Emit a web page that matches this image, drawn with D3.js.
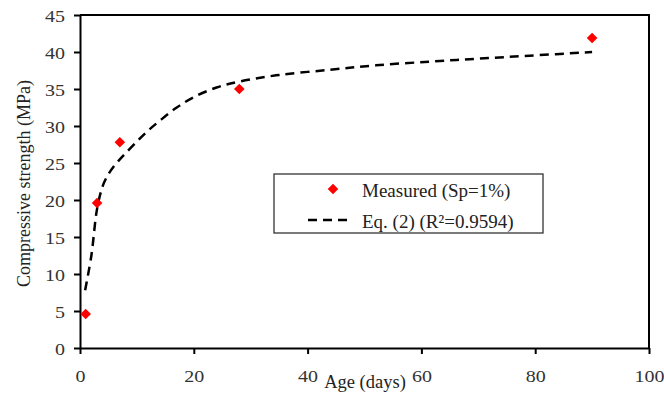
<!DOCTYPE html>
<html>
<head>
<meta charset="utf-8">
<script src="https://cdn.jsdelivr.net/npm/d3@7"></script>
<style>
  html, body { margin: 0; padding: 0; background: #fff; }
  svg { display: block; }
  svg text { font-family: "Liberation Serif", "Times New Roman", Tinos, "DejaVu Serif", serif !important; }
</style>
</head>
<body>
<svg id="chart" width="664" height="394"></svg>
<script>
// ---- data ----
const measuredAge = [1, 3, 7, 28, 90];
const measuredStrength = [4.6, 19.6, 27.8, 35.0, 41.9];

const fitAge = [0.9, 2, 3, 4, 5, 6, 7, 8, 10, 12, 14, 17, 20, 24, 28, 35, 44, 52, 61.5, 70, 79, 90];
const fitStrength = [7.8, 12.5, 18.8, 21.9, 23.5, 24.6, 25.5, 26.3, 27.9, 29.4, 30.7, 32.5, 33.9, 35.2, 36.0, 36.9, 37.6, 38.2, 38.7, 39.1, 39.5, 40.0];

const xTicks = [0, 20, 40, 60, 80, 100];
const yTicks = [0, 5, 10, 15, 20, 25, 30, 35, 40, 45];

const xTitle = "Age (days)";
const yTitle = "Compressive strength (MPa)";
const legendLabels = ["Measured (Sp=1%)", "Eq. (2) (R\u00B2=0.9594)"];

// ---- layout ----
const svg = d3.select("#chart");
const L = 80, R = 649, T = 15, B = 348;
const FONT = "'Liberation Serif', 'Times New Roman', Tinos, 'DejaVu Serif', serif";

const x = d3.scaleLinear().domain([0, 100]).range([L, R]);
const y = d3.scaleLinear().domain([0, 45]).range([B, T]);

// frame (top & right)
svg.append("path")
  .attr("d", `M${L},${T}H${R}V${B}`)
  .attr("fill", "none").attr("stroke", "#000").attr("stroke-width", 2);

// x axis
const gx = svg.append("g").attr("transform", `translate(0,${B})`)
  .call(d3.axisBottom(x).tickValues(xTicks).tickSizeInner(6).tickSizeOuter(0));
gx.attr("font-family", FONT);
gx.select(".domain").attr("stroke", "#000").attr("stroke-width", 2);
gx.selectAll(".tick line").attr("stroke", "#000").attr("stroke-width", 2);
gx.selectAll(".tick text")
  .attr("y", null).attr("dy", null)
  .attr("transform", "translate(0,34) scale(1.25,1)")
  .attr("font-size", 16).attr("fill", "#333");

// y axis
const gy = svg.append("g").attr("transform", `translate(${L},0)`)
  .call(d3.axisLeft(y).tickValues(yTicks).tickSizeInner(6).tickSizeOuter(0));
gy.attr("font-family", FONT);
gy.select(".domain").attr("stroke", "#000").attr("stroke-width", 2);
gy.selectAll(".tick line").attr("stroke", "#000").attr("stroke-width", 2);
gy.selectAll(".tick text")
  .attr("x", null).attr("dy", null)
  .attr("transform", "translate(-15,6.5) scale(1.25,1)")
  .attr("font-size", 16).attr("fill", "#333");

// axis titles
svg.append("text")
  .attr("x", 365).attr("y", 388)
  .attr("text-anchor", "middle").attr("font-size", 18.5).attr("fill", "#222")
  .attr("font-family", FONT)
  .text(xTitle);
svg.append("text")
  .attr("transform", "translate(30,183.5) rotate(-90)")
  .attr("text-anchor", "middle").attr("font-size", 18).attr("fill", "#222")
  .attr("font-family", FONT)
  .text(yTitle);

// fitted curve
const fitData = fitAge.map((a, i) => [a, fitStrength[i]]);
svg.append("path")
  .datum(fitData)
  .attr("d", d3.line().x(d => x(d[0])).y(d => y(d[1])).curve(d3.curveCatmullRom.alpha(0.5)))
  .attr("fill", "none").attr("stroke", "#000").attr("stroke-width", 2.5)
  .attr("stroke-dasharray", "9,6");

// measured points (square rotated 45deg)
const marker = d3.symbol().type(d3.symbolSquare).size(56);
svg.selectAll(".pt")
  .data(measuredAge.map((a, i) => [a, measuredStrength[i]]))
  .join("path")
  .attr("class", "pt")
  .attr("transform", d => `translate(${x(d[0])},${y(d[1])}) rotate(45)`)
  .attr("d", marker)
  .attr("fill", "#f00");

// legend
const lg = svg.append("g").attr("font-family", FONT);
lg.append("rect")
  .attr("x", 274).attr("y", 174).attr("width", 269).attr("height", 59)
  .attr("fill", "#fff").attr("stroke", "#333").attr("stroke-width", 1.3);
lg.append("path")
  .attr("transform", "translate(333,189) rotate(45)")
  .attr("d", marker).attr("fill", "#f00");
lg.append("line")
  .attr("x1", 308).attr("x2", 348).attr("y1", 220).attr("y2", 220)
  .attr("stroke", "#000").attr("stroke-width", 2.5).attr("stroke-dasharray", "9,6");
lg.selectAll(".lt")
  .data(legendLabels)
  .join("text")
  .attr("class", "lt")
  .attr("x", 362).attr("y", (d, i) => 196.5 + i * 31)
  .attr("font-size", 19).attr("fill", "#222")
  .text(d => d);
</script>
</body>
</html>
